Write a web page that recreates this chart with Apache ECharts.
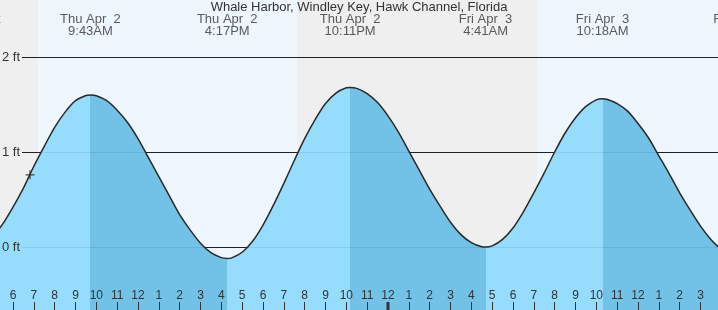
<!DOCTYPE html>
<html><head><meta charset="utf-8">
<script src="https://cdn.jsdelivr.net/npm/echarts@6/dist/echarts.min.js"></script>
<style>html,body{margin:0;padding:0;background:#fff;overflow:hidden}#c{width:718px;height:310px}</style>
</head><body><div id="c"></div>
<script>
// ---- data (hours since midnight Thu Apr 2, local time; heights in ft) ----
const titleText = 'Whale Harbor, Windley Key, Hawk Channel, Florida';
const hours = [5,5.5,6,6.5,7,7.5,8,8.5,9,9.5,9.717,10,10.5,11,11.5,12,12.5,13,13.5,14,14.5,15,15.5,16,16.283,16.5,17,17.5,18,18.5,19,19.5,20,20.5,21,21.5,22,22.183,22.5,23,23.5,24,24.5,25,25.5,26,26.5,27,27.5,28,28.5,28.683,29,29.5,30,30.5,31,31.5,32,32.5,33,33.5,34,34.3,34.5,35,35.5,36,36.5,37,37.5,38,38.5,39,39.5,40];
const heights = [0.10,0.24,0.42,0.62,0.85,1.06,1.26,1.42,1.54,1.594,1.60,1.592,1.54,1.44,1.31,1.14,0.94,0.74,0.54,0.34,0.18,0.04,-0.06,-0.112,-0.12,-0.114,-0.055,0.06,0.23,0.44,0.67,0.91,1.14,1.34,1.51,1.62,1.676,1.68,1.670,1.615,1.52,1.38,1.21,1.01,0.81,0.61,0.43,0.26,0.13,0.046,0.003,0.00,0.012,0.08,0.20,0.37,0.57,0.78,1.00,1.20,1.36,1.48,1.549,1.56,1.556,1.51,1.43,1.30,1.15,0.96,0.77,0.57,0.39,0.22,0.08,-0.03];
const tideTimes = [3.97, 9.717, 16.283, 22.183, 28.683, 34.3, 40.9];
const tideDays = ['Thu Apr  2','Thu Apr  2','Thu Apr  2','Thu Apr  2','Fri Apr  3','Fri Apr  3','Fri Apr  3'];
const tideClock = ['3:58AM','9:43AM','4:17PM','10:11PM','4:41AM','10:18AM','4:54PM'];
const tideType = ['low','high','low','high','low','high','low'];
const bandStart = [0, 7.2, 19.633, 31.15];
const bandEnd = [7.2, 19.633, 31.15, 48];
const bandKind = ['night','day','night','day'];
const nowTime = [6.817];
const nowHeight = [0.76];
const midnights = [24];
const yTicks = [0, 1, 2];

// ---- layout / style ----
const FONT = '"Liberation Sans", Arial, sans-serif';
const LIGHT = '#96dcfd', DARK = '#72c1e6';
const NIGHT = '#efefef', DAY = '#eef6fe';
const INK = '#333';
const pxPerHour = 718 / 34.464;
const firstVisible = 5.376;
const xMin = 5, xMax = 40, yMin = -1, yMax = 3;
const gridTop = -38, gridBottom = -32;
const g0Left = -(firstVisible - xMin) * pxPerHour;
const g0Right = 718 - (xMax - firstVisible) * pxPerHour;
const labelLevel = 2.33;

const pieces = [];
for (let i = 0; i < tideTimes.length - 1; i++) {
  pieces.push({ min: tideTimes[i], max: tideTimes[i + 1], color: tideType[i] === 'low' ? LIGHT : DARK });
}
const curve = hours.map((h, i) => [h, heights[i]]);

const chart = echarts.init(document.getElementById('c'), null, { renderer: 'canvas' });
chart.setOption({
  animation: false,
  backgroundColor: '#ffffff',
  textStyle: { fontFamily: FONT },
  title: {
    text: titleText, left: 'center', top: 1, padding: 0,
    textStyle: { fontFamily: FONT, fontSize: 13, fontWeight: 'normal', color: INK }
  },
  grid: [
    { left: g0Left, right: g0Right, top: gridTop, bottom: gridBottom, containLabel: false, outerBoundsMode: 'none' },
    { left: 22, right: 0, top: gridTop, bottom: gridBottom, containLabel: false, outerBoundsMode: 'none' }
  ],
  xAxis: [
    {
      gridIndex: 0, type: 'value', min: xMin, max: xMax, interval: 1, z: 5,
      position: 'bottom', offset: gridBottom,
      axisLine: { show: false, onZero: false },
      axisTick: { show: true, inside: true, length: 8, lineStyle: { color: INK, width: 1 } },
      axisLabel: {
        show: true, inside: true, margin: 8, fontSize: 12, color: INK, fontFamily: FONT,
        formatter: v => (v < 6 || v > 39) ? '' : String(((v % 12) === 0) ? 12 : (v % 12))
      },
      splitLine: { show: false }
    },
    { gridIndex: 1, type: 'value', min: xMin, max: xMax, show: false, axisLine: { onZero: false } }
  ],
  yAxis: [
    { gridIndex: 0, type: 'value', min: yMin, max: yMax, show: false, axisLine: { onZero: false } },
    {
      gridIndex: 1, type: 'value', position: 'left', min: yMin, max: yMax, interval: 1, z: 1,
      axisLine: { show: false, onZero: false }, axisTick: { show: false }, axisLabel: { show: false },
      splitLine: { show: true, lineStyle: { color: '#222', width: 1 } }
    },
    {
      gridIndex: 1, type: 'value', position: 'left', offset: 0, min: yMin, max: yMax, interval: 1, z: 3,
      axisLine: { show: false, onZero: false }, axisTick: { show: false },
      axisLabel: {
        show: true, margin: 2, fontSize: 13, color: INK, fontFamily: FONT,
        formatter: v => yTicks.includes(v) ? v + ' ft' : ''
      },
      splitLine: { show: true, lineStyle: { color: 'rgba(0,40,80,0.09)', width: 1 } }
    }
  ],
  visualMap: {
    show: false, type: 'piecewise', seriesIndex: 0, dimension: 0,
    pieces: pieces, outOfRange: { color: LIGHT }
  },
  series: [
    {
      type: 'line', xAxisIndex: 0, yAxisIndex: 0, z: 2, data: curve,
      smooth: 0.3, symbol: 'none', lineStyle: { width: 0 },
      areaStyle: { opacity: 1, origin: 'start' }, silent: true
    },
    {
      type: 'line', xAxisIndex: 0, yAxisIndex: 0, z: 4, data: curve,
      smooth: 0.3, symbol: 'none', lineStyle: { width: 1.5, color: '#2a2a2a' }, silent: true
    },
    {
      type: 'custom', xAxisIndex: 0, yAxisIndex: 0, z: 0, silent: true,
      data: bandStart.map((s, i) => [s, bandEnd[i], i]),
      renderItem: (params, api) => {
        const a = api.coord([api.value(0), yMax]);
        const b = api.coord([api.value(1), yMin]);
        const k = bandKind[api.value(2)];
        return { type: 'rect', shape: { x: a[0], y: a[1], width: b[0] - a[0], height: b[1] - a[1] },
                 style: { fill: k === 'day' ? DAY : NIGHT } };
      }
    },
    {
      type: 'scatter', xAxisIndex: 0, yAxisIndex: 0, z: 6, clip: false, silent: true,
      symbolSize: 0,
      data: tideTimes.map((t, i) => [t, labelLevel, i]),
      label: {
        show: true, position: 'inside', fontSize: 13, lineHeight: 12, color: INK, fontFamily: FONT,
        align: 'center',
        formatter: p => tideDays[p.data[2]] + '\n' + tideClock[p.data[2]]
      }
    },
    {
      type: 'scatter', xAxisIndex: 0, yAxisIndex: 0, z: 6, silent: true,
      data: nowTime.map((t, i) => [t, nowHeight[i]]),
      symbol: 'path://M0,4L8,4M4,0L4,8', symbolSize: 9,
      itemStyle: { color: 'transparent', borderColor: '#222', borderWidth: 1.2 }
    },
    {
      type: 'custom', xAxisIndex: 0, yAxisIndex: 0, z: 6, silent: true,
      data: midnights.map(m => [m]),
      renderItem: (params, api) => {
        const p = api.coord([api.value(0), 0]);
        const h = api.getHeight();
        return { type: 'rect', shape: { x: p[0] - 1.5, y: h - 8, width: 3, height: 8 }, style: { fill: INK } };
      }
    }
  ]
});
</script>
</body></html>
